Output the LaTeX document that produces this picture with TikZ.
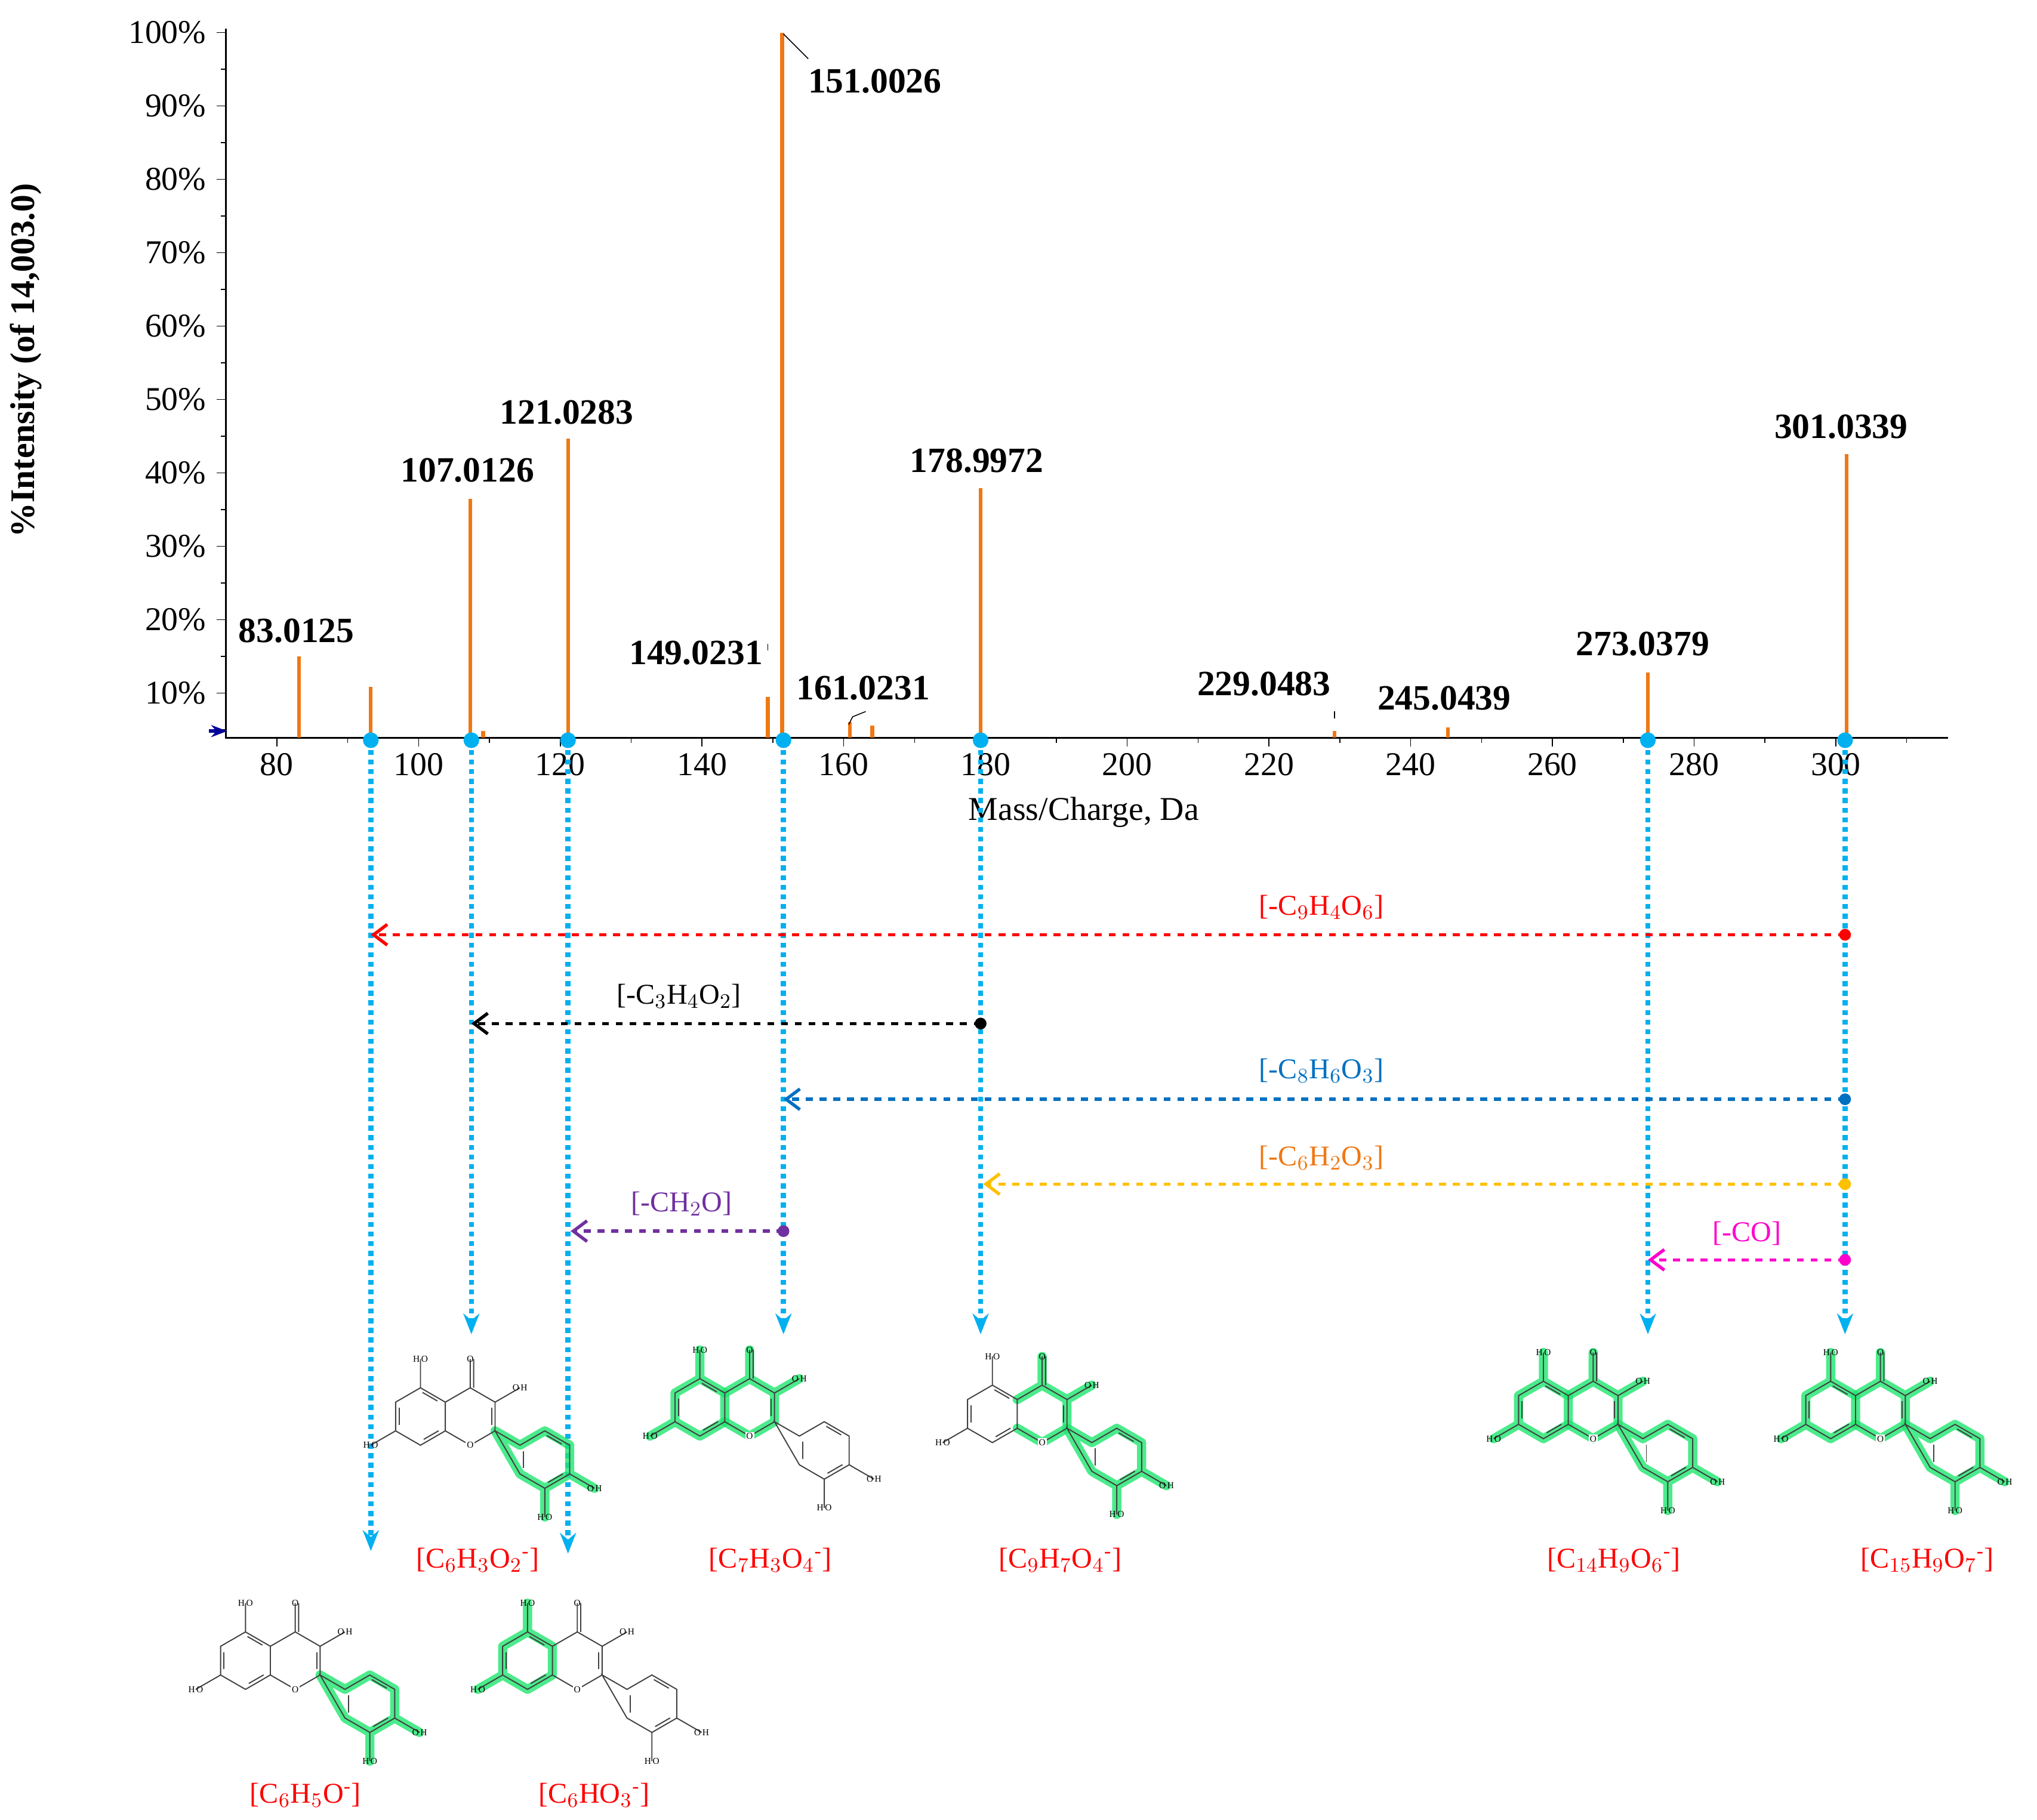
\documentclass[tikz,border=0pt]{standalone}
\usepackage{fontspec}
\setmainfont{Liberation Serif}
\usetikzlibrary{arrows.meta,calc}
\definecolor{org}{RGB}{240,120,20}
\definecolor{sky}{RGB}{0,176,240}
\definecolor{gr}{RGB}{30,230,110}
\definecolor{bl2}{RGB}{0,112,192}
\definecolor{gold}{RGB}{255,192,0}
\definecolor{pur}{RGB}{112,48,160}
\definecolor{mag}{RGB}{255,0,204}
\tikzset{
 peak/.style={org,line width=1.6pt},
 plab/.style={font=\fontsize{15.5}{16}\selectfont\bfseries},
 tlab/.style={font=\fontsize{14.5}{15}\selectfont},
 alab/.style={font=\fontsize{12.5}{13}\selectfont},
 flab/.style={red,font=\fontsize{12.5}{13}\selectfont},
 vdot/.style={sky,line width=2.2pt,dotted,-{Stealth[length=9pt,width=7pt]}},
 hdash/.style={dashed,line width=1.4pt,-{Straight Barb[length=6pt,width=9pt]}},
 hl/.style={gr,opacity=.8,line width=4pt,line join=round,line cap=round},
 pl/.style={draw=none},
 sk/.style={black!75,line width=0.5pt},
 atomlab/.style={font=\fontsize{4}{4}\selectfont,inner sep=0.5pt},
}
\newcommand\quer[4]{%
\begin{scope}[shift={#1},x=0.44cm,y=0.44cm]
 \foreach \a in {30,90,150,210,270,330}{\coordinate (A\a) at (\a:1);}
 \foreach \a in {30,90,150,210,270,330}{\coordinate (C\a) at ($(1.732,0)+(\a:1)$);}
 \coordinate (B150) at ($(C330)+(-30:1)$);
 \coordinate (Bc) at ($(B150)+(-30:1)$);
 \foreach \a in {30,90,210,270,330}{\coordinate (B\a) at ($(Bc)+(\a:1)$);}
 \coordinate (O5) at ($(A90)+(90:1)$);
 \coordinate (O7) at ($(A210)+(210:1)$);
 \coordinate (O4) at ($(C90)+(90:1)$);
 \coordinate (O3) at ($(C30)+(30:1)$);
 \coordinate (O3p) at ($(B270)+(270:1)$);
 \coordinate (O4p) at ($(B330)+(330:1)$);
 \draw[#2] (A30)--(A90)--(A150)--(A210)--(A270)--(A330)--cycle (A90)--(O5) (A210)--(O7);
 \draw[#3] (C90)--(C30)--(C330)--(C270)--(C210) (C150)--(C90)--(O4) (C30)--(O3);
 \draw[#4] (C330)--(B150)--(B90)--(B30)--(B330)--(B270)--(B210)--cycle (B270)--(O3p) (B330)--(O4p);
 \draw[sk] (A30)--(A90)--(A150)--(A210)--(A270)--(A330)--cycle;
 \draw[sk] ($(A90)!.2!(A30)+(-150:.12)$)--($(A30)!.2!(A90)+(-150:.12)$);
 \draw[sk] ($(A150)!.2!(A210)+(0:.12)$)--($(A210)!.2!(A150)+(0:.12)$);
 \draw[sk] ($(A270)!.2!(A330)+(120:.12)$)--($(A330)!.2!(A270)+(120:.12)$);
 \draw[sk] (C150)--(C90)--(C30)--(C330)--(C270)--(C210);
 \draw[sk] ($(C30)!.2!(C330)+(180:.12)$)--($(C330)!.2!(C30)+(180:.12)$);
 \draw[sk] (C330)--(B150)--(B90)--(B30)--(B330)--(B270)--(B210)--cycle;
 \draw[sk] ($(B90)!.2!(B30)+(-150:.12)$)--($(B30)!.2!(B90)+(-150:.12)$);
 \draw[sk] ($(B150)!.2!(B210)+(0:.12)$)--($(B210)!.2!(B150)+(0:.12)$);
 \draw[sk] ($(B270)!.2!(B330)+(120:.12)$)--($(B330)!.2!(B270)+(120:.12)$);
 \draw[sk] (A90)--(O5) (A210)--(O7) (C90)--(O4) ($(C90)+(.12,0)$)--($(O4)+(.12,0)$) (C30)--(O3) (B270)--(O3p) (B330)--(O4p);
 \node[atomlab,fill=white] at (C270) {O};
 \node[atomlab] at (O5) {H\,O};
 \node[atomlab] at (O7) {H\,O};
 \node[atomlab] at (O4) {O};
 \node[atomlab] at (O3) {O\,H};
 \node[atomlab] at (O3p) {H\,O};
 \node[atomlab] at (O4p) {O\,H};
\end{scope}}
\begin{document}
\begin{tikzpicture}[x=0.02cm,y=-0.02cm]
\useasboundingbox (0,0) rectangle (1560,1394);
\draw[line width=0.8pt] (173,22)--(173,565)--(1492,565);
\foreach \p in {10,20,...,100}{
 \draw (173,{587-5.62*\p})--(166,{587-5.62*\p});
 \node[tlab,anchor=east] at (164,{587-5.62*\p}) {\p\%};}
\foreach \p in {5,15,...,95}{\draw (173,{587-5.62*\p})--(169,{587-5.62*\p});}
\foreach \m in {80,100,...,300}{
 \draw ({212+(\m-80)*5.427},565)--({212+(\m-80)*5.427},572);
 \node[tlab,anchor=north] at ({212+(\m-80)*5.427},571) {\m};}
\foreach \m in {90,110,...,310}{\draw ({212+(\m-80)*5.427},565)--({212+(\m-80)*5.427},569);}
\node[tlab] (xl) at (830,622) {Mass/Charge, Da};
\node[font=\fontsize{15}{16}\selectfont\bfseries,rotate=90] (yl) at (20,276) {\%Intensity (of 14,003.0)};
\draw[blue!60!black,-{Stealth[length=7pt]},line width=1.5pt] (160,560)--(174,560);
\draw[peak] (229,565)--(229,503);
\draw[peak] (284,565)--(284,526);
\draw[peak] (360,565)--(360,382);
\draw[peak] (370,565)--(370,560);
\draw[peak] (435,565)--(435,336);
\draw[peak] (588,565)--(588,534);
\draw[peak] (599,565)--(599,25);
\draw[peak] (651,565)--(651,553);
\draw[peak] (668,565)--(668,556);
\draw[peak] (751,565)--(751,374);
\draw[peak] (1022,565)--(1022,560);
\draw[peak] (1109,565)--(1109,557);
\draw[peak] (1262,565)--(1262,515);
\draw[peak] (1414,565)--(1414,348);
\node[plab] at (227,483) {83.0125};
\node[plab] at (358,360) {107.0126};
\node[plab] at (434,316) {121.0283};
\node[plab] at (533,500) {149.0231};
\node[plab] at (670,62) {151.0026};
\node[plab] at (661,527) {161.0231};
\node[plab] at (748,353) {178.9972};
\node[plab] at (968,524) {229.0483};
\node[plab] at (1106,535) {245.0439};
\node[plab] at (1258,493) {273.0379};
\node[plab] at (1410,327) {301.0339};
\draw[thin] (600,26)--(619,45);
\draw[thin,dashed] (588,493)--(588,503);
\draw[thin] (650,555)--(653,549)--(663,545);
\draw[thin,dashed] (1022,545)--(1022,555);
\foreach \n/\x in {d93/284,d107/361,d121/435,d151/600,d179/751,d273/1262,d301/1413}{
 \fill[sky] (\x,567) circle (6) coordinate (\n);}
\coordinate (e93) at (284,1188);
\coordinate (e107) at (361,1022);
\coordinate (e121) at (435,1190);
\coordinate (e151) at (600,1022);
\coordinate (e179) at (751,1022);
\coordinate (e273) at (1262,1022);
\coordinate (e301) at (1413,1022);
\foreach \n in {93,107,121,151,179,273,301}{\draw[vdot] (d\n)--(e\n);}
\fill[red] (1413,716) circle (4.5) coordinate (r1);
\coordinate (r2) at (284,716);
\draw[hdash,red] (r1)--(r2);
\node[red,alab] at (1012,695) {[-C$_9$H$_4$O$_6$]};
\fill[black] (751,784) circle (4.5) coordinate (k1);
\coordinate (k2) at (361,784);
\draw[hdash,black] (k1)--(k2);
\node[alab] at (520,763) {[-C$_3$H$_4$O$_2$]};
\fill[bl2] (1413,842) circle (4.5) coordinate (b1);
\coordinate (b2) at (600,842);
\draw[hdash,bl2] (b1)--(b2);
\node[bl2,alab] at (1012,820) {[-C$_8$H$_6$O$_3$]};
\fill[gold] (1413,907) circle (4.5) coordinate (g1);
\coordinate (g2) at (753,907);
\draw[hdash,gold] (g1)--(g2);
\node[org,alab] at (1012,887) {[-C$_6$H$_2$O$_3$]};
\fill[pur] (600,943) circle (4.5) coordinate (p1);
\coordinate (p2) at (437,943);
\draw[hdash,pur] (p1)--(p2);
\node[pur,alab] at (522,922) {[-CH$_2$O]};
\fill[mag] (1413,965) circle (4.5) coordinate (m1);
\coordinate (m2) at (1262,965);
\draw[hdash,mag] (m1)--(m2);
\node[mag,alab] at (1338,945) {[-CO]};
\quer{(322,1085)}{pl}{pl}{hl}
\quer{(536,1078)}{hl}{hl}{pl}
\quer{(760,1083)}{pl}{hl}{hl}
\quer{(1182,1080)}{hl}{hl}{hl}
\quer{(1402,1080)}{hl}{hl}{hl}
\quer{(188,1272)}{pl}{pl}{hl}
\quer{(404,1272)}{hl}{pl}{pl}
\node[flab] at (366,1195) {[C$_6$H$_3$O$_2$\textsuperscript{-}]};
\node[flab] at (590,1195) {[C$_7$H$_3$O$_4$\textsuperscript{-}]};
\node[flab] at (812,1195) {[C$_9$H$_7$O$_4$\textsuperscript{-}]};
\node[flab] at (1236,1195) {[C$_{14}$H$_9$O$_6$\textsuperscript{-}]};
\node[flab] at (1476,1195) {[C$_{15}$H$_9$O$_7$\textsuperscript{-}]};
\node[flab] at (234,1375) {[C$_6$H$_5$O\textsuperscript{-}]};
\node[flab] at (455,1375) {[C$_6$HO$_3$\textsuperscript{-}]};
\end{tikzpicture}
\end{document}
